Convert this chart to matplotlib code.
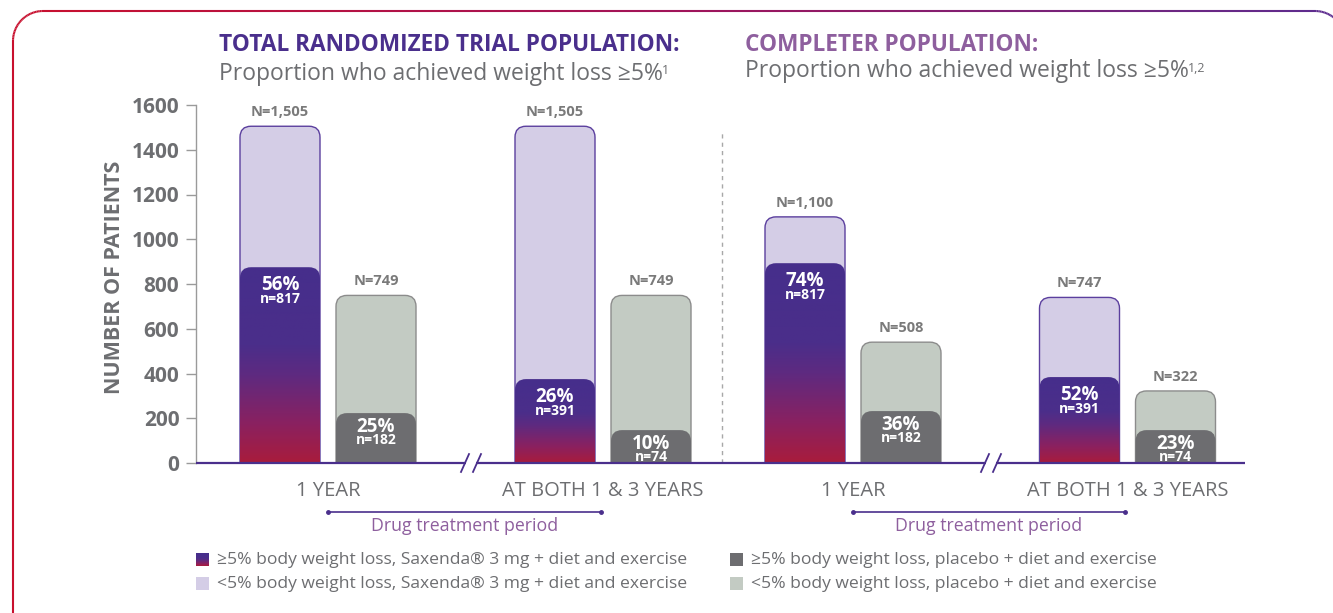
import numpy as np
import matplotlib
matplotlib.use('Agg')
import matplotlib.pyplot as plt
from matplotlib.patches import FancyBboxPatch, Rectangle
from matplotlib.colors import LinearSegmentedColormap
from matplotlib.collections import LineCollection
import matplotlib.transforms as mtransforms

plt.rcParams['font.family'] = ['Open Sans', 'DejaVu Sans']

# Data
groups = ['1 YEAR', 'AT BOTH 1 & 3 YEARS', '1 YEAR', 'AT BOTH 1 & 3 YEARS']
sax_total = [1505, 1505, 1100, 740]
sax_resp = [875, 375, 893, 384]
plac_total = [749, 749, 540, 322]
plac_resp = [223, 147, 232, 147]
sax_N = ['N=1,505', 'N=1,505', 'N=1,100', 'N=747']
plac_N = ['N=749', 'N=749', 'N=508', 'N=322']
sax_pct = ['56%', '26%', '74%', '52%']
sax_n = ['n=817', 'n=391', 'n=817', 'n=391']
plac_pct = ['25%', '10%', '36%', '23%']
plac_n = ['n=182', 'n=74', 'n=182', 'n=74']
yticks = [0, 200, 400, 600, 800, 1000, 1200, 1400, 1600]

# colours
PURPLE = '#4a2f8c'
MAUVE = '#8e5f9e'
GRAY_TXT = '#6d6e71'
LAV = '#d4cde6'
LAV_EDGE = '#5b3f9e'
SAGE = '#c3cbc3'
SAGE_EDGE = '#8c8c8c'
DARK_GRAY = '#6d6d70'
grad_cmap = LinearSegmentedColormap.from_list(
    'sax', [(0, '#a91c3c'), (0.2, '#8a2160'), (0.45, '#5e2a80'), (0.6, '#4b2e8a'), (1, '#462e8c')])

W, H = 1333, 613
fig = plt.figure(figsize=(W / 100, H / 100), dpi=100)


def fx(px):
    return px / W


def fy(py):
    return 1 - py / H


# gradient rounded border (runs off the right and bottom edges)
r = 30
pts = []
for y in np.linspace(640, 11 + r, 40):
    pts.append((13, y))
for a in np.linspace(np.pi, 1.5 * np.pi, 30):
    pts.append((13 + r + r * np.cos(a), 11 + r + r * np.sin(a)))
for x in np.linspace(13 + r, 1345 - r, 200):
    pts.append((x, 11))
for a in np.linspace(1.5 * np.pi, 2 * np.pi, 30):
    pts.append((1345 - r + r * np.cos(a), 11 + r + r * np.sin(a)))
for y in np.linspace(11 + r, 640, 40):
    pts.append((1345, y))
pts = np.array(pts)
fpts = np.column_stack([fx(pts[:, 0]), fy(pts[:, 1])])
segs = np.stack([fpts[:-1], fpts[1:]], axis=1)
border_cmap = LinearSegmentedColormap.from_list('b', ['#c8102e', '#a0145a', '#5b2d90'])
cols = border_cmap(np.clip((pts[:-1, 0] - 13) / 1332, 0, 1))
fig.add_artist(LineCollection(segs, colors=cols, linewidths=1.5, transform=fig.transFigure))

ax = fig.add_axes([fx(196), fy(463), fx(1245) - fx(196), fy(105) - fy(463)])
ax.set_xlim(0, 10.49)
ax.set_ylim(0, 1600)

centers = np.array([1.32, 4.07, 6.57, 9.315])
off = 0.48
bw = 0.80
asp = (1600 / 358) / 0.01
rs = 0.11


def bar(xc, h, fc, ec, z, lw=1.0):
    p = FancyBboxPatch((xc - bw / 2, -200), bw, h + 200,
                       boxstyle=f'round,pad=0,rounding_size={rs}',
                       mutation_aspect=asp, fc=fc, ec=ec, lw=lw, zorder=z)
    ax.add_patch(p)
    return p


grad = np.linspace(0, 1, 256).reshape(-1, 1)
for i in range(4):
    xs = centers[i] - off
    xp = centers[i] + off
    bar(xs, sax_total[i], LAV, LAV_EDGE, 2)
    p = bar(xs, sax_resp[i], 'none', 'none', 3, lw=0)
    im = ax.imshow(grad, extent=[xs - bw / 2, xs + bw / 2, 0, sax_resp[i]],
                   origin='lower', aspect='auto', cmap=grad_cmap, zorder=3)
    im.set_clip_path(p)
    bar(xp, plac_total[i], SAGE, SAGE_EDGE, 2)
    bar(xp, plac_resp[i], DARK_GRAY, 'none', 3, lw=0)

    ax.annotate(sax_N[i], (xs, sax_total[i]), xytext=(0, 5), textcoords='offset points',
                ha='center', va='bottom', fontsize=10.5, fontweight='bold', color='#7a7a7a')
    ax.annotate(plac_N[i], (xp, plac_total[i]), xytext=(0, 5), textcoords='offset points',
                ha='center', va='bottom', fontsize=10.5, fontweight='bold', color='#7a7a7a')
    ax.annotate(sax_pct[i], (xs, sax_resp[i]), xytext=(0, -16.5), textcoords='offset points',
                ha='center', va='baseline', fontsize=13.5, fontweight='bold', color='white', zorder=5)
    ax.annotate(sax_n[i], (xs, sax_resp[i]), xytext=(0, -26), textcoords='offset points',
                ha='center', va='baseline', fontsize=10, fontweight='bold', color='white', zorder=5)
    ax.annotate(plac_pct[i], (xp, plac_resp[i]), xytext=(0, -13.5), textcoords='offset points',
                ha='center', va='baseline', fontsize=13.5, fontweight='bold', color='white', zorder=5)
    ax.annotate(plac_n[i], (xp, plac_resp[i]), xytext=(0, -22.5), textcoords='offset points',
                ha='center', va='baseline', fontsize=10, fontweight='bold', color='white', zorder=5)

ax.set_xlim(0, 10.49)
ax.set_ylim(0, 1600)

# axes styling
for s in ['top', 'right', 'bottom']:
    ax.spines[s].set_visible(False)
ax.spines['left'].set_color('#9a9a9a')
ax.spines['left'].set_linewidth(1)
ax.set_yticks(yticks)
ax.set_yticklabels([str(v) for v in yticks], fontsize=15, fontweight='bold', color=GRAY_TXT)
ax.tick_params(axis='y', length=7, width=1, color='#9a9a9a', pad=5)
ax.set_xticks(centers)
ax.set_xticklabels(groups, fontsize=14.5, color=GRAY_TXT)
ax.tick_params(axis='x', length=0, pad=13)

# broken x-axis line
for a, b in [(0, 2.70), (2.80, 7.90), (8.00, 10.49)]:
    ax.plot([a, b], [0, 0], color=PURPLE, lw=1.6, clip_on=False, zorder=6, solid_capstyle='butt')
for bx in [2.69, 2.81, 7.89, 8.01]:
    ax.plot([bx - 0.04, bx + 0.04], [-40, 40], color=PURPLE, lw=1.3, clip_on=False, zorder=6)

# divider between panels
ax.plot([5.26, 5.26], [0, 1475], color='#a8a8a8', lw=1, ls=(0, (3, 3)), zorder=1)

# drug treatment period brackets
trans = mtransforms.blended_transform_factory(ax.transData, ax.transAxes)
for a, b in [(centers[0], 4.05), (centers[2], 9.29)]:
    ax.plot([a, b], [-0.137, -0.137], color=PURPLE, lw=1.2, transform=trans, clip_on=False,
            marker='o', markersize=2.5)
    ax.text((a + b) / 2, -0.176, 'Drug treatment period', transform=trans, ha='center', va='center',
            fontsize=12.8, color=MAUVE)

# y label
fig.text(fx(114), fy(277), 'NUMBER OF PATIENTS', rotation=90, ha='center', va='center',
         fontsize=15.5, fontweight='bold', color=GRAY_TXT)

# titles
fig.text(fx(219), fy(45), 'TOTAL RANDOMIZED TRIAL POPULATION:', ha='left', va='center',
         fontsize=16.3, fontweight='bold', color=PURPLE)
sub1 = fig.text(fx(219), fy(74), 'Proportion who achieved weight loss \u22655%', ha='left', va='center',
                fontsize=16.5, color=GRAY_TXT)
fig.text(fx(745), fy(45), 'COMPLETER POPULATION:', ha='left', va='center',
         fontsize=16.3, fontweight='bold', color=MAUVE)
sub2 = fig.text(fx(745), fy(71), 'Proportion who achieved weight loss \u22655%', ha='left', va='center',
                fontsize=16.5, color=GRAY_TXT)

fig.canvas.draw()
rend = fig.canvas.get_renderer()
for t, sup in [(sub1, '1'), (sub2, '1,2')]:
    bb = t.get_window_extent(rend)
    fig.text((bb.x1 - 1) / W, (bb.y1 - 9) / H, sup, ha='left', va='center', fontsize=9, color=GRAY_TXT)

# legend
leg = [
    (196, 553, None, '\u22655% body weight loss, Saxenda\u00ae 3 mg + diet and exercise'),
    (196, 577, LAV, '<5% body weight loss, Saxenda\u00ae 3 mg + diet and exercise'),
    (730, 553, DARK_GRAY, '\u22655% body weight loss, placebo + diet and exercise'),
    (730, 577, SAGE, '<5% body weight loss, placebo + diet and exercise'),
]
for x, y, c, label in leg:
    if c is None:
        lax = fig.add_axes([fx(x), fy(y + 13), 13 / W, 13 / H])
        lax.imshow(grad, origin='lower', aspect='auto', cmap=grad_cmap)
        lax.axis('off')
    else:
        fig.add_artist(Rectangle((fx(x), fy(y + 13)), 13 / W, 13 / H, fc=c, ec='none',
                                 transform=fig.transFigure))
    fig.text(fx(x + 21), fy(y + 6.5), label, ha='left', va='center', fontsize=12.6, color=GRAY_TXT)

fig.savefig('out.png', dpi=100)
